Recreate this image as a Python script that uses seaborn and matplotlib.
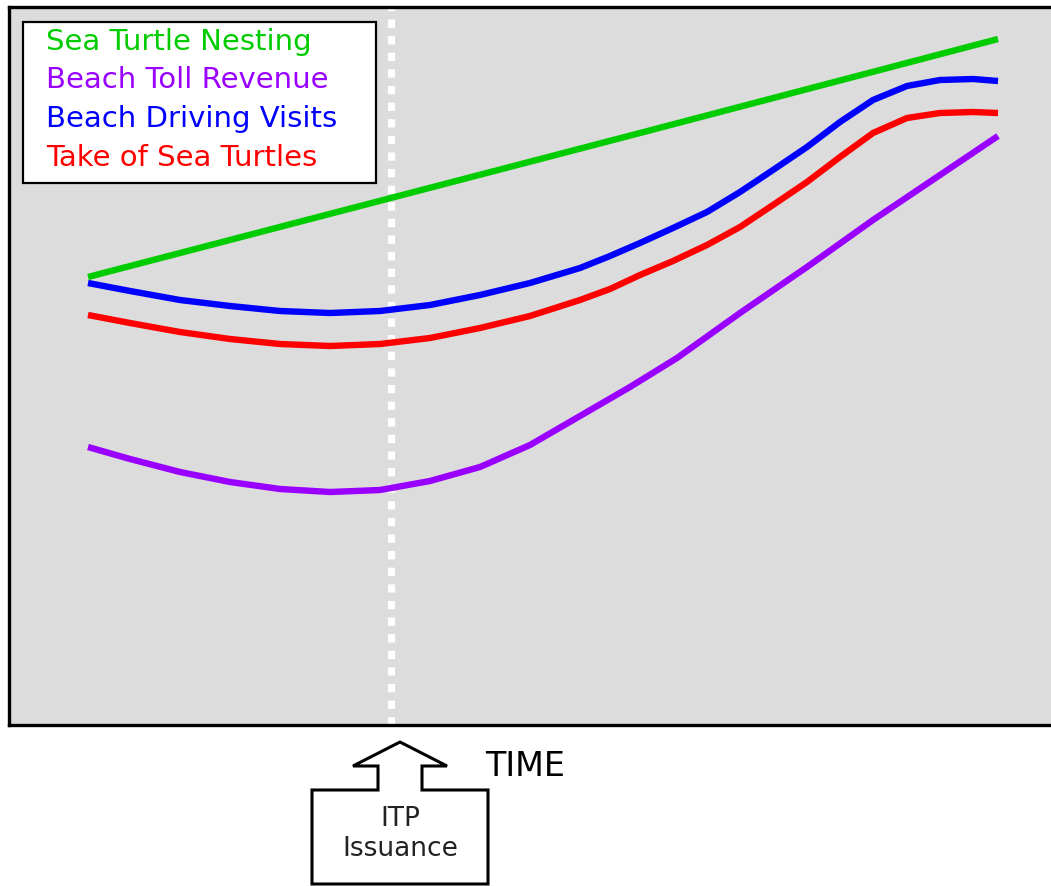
import numpy as np
import pandas as pd
import matplotlib
matplotlib.use("Agg")
import matplotlib.pyplot as plt
from matplotlib.patches import Polygon, Rectangle
import seaborn as sns

# values (time axis and level, arbitrary units)
nesting_t = [88, 640, 998]
nesting_v = [448, 592, 686]

toll_t = [88, 130, 180, 230, 280, 330, 380, 430, 480, 530, 580, 630, 677, 740, 807, 873, 940, 998]
toll_v = [278, 266, 253, 243, 236, 233, 235, 244, 258, 280, 309, 338, 367, 412, 458, 505, 550, 589]

visits_t = [88, 130, 180, 230, 280, 330, 380, 430, 480, 530, 580, 610, 640, 673, 707, 740, 773,
            807, 840, 873, 907, 940, 973, 998]
visits_v = [442, 434, 425, 419, 414, 412, 414, 420, 430, 442, 457, 469, 482, 497, 513, 533, 555,
            578, 603, 625, 639, 645, 646, 644]

take_t = [88, 130, 180, 230, 280, 330, 380, 430, 480, 530, 580, 610, 640, 673, 707, 740, 773,
          807, 840, 873, 907, 940, 973, 998]
take_v = [410, 402, 393, 386, 381, 379, 381, 387, 397, 409, 425, 436, 450, 464, 480, 498, 520,
          543, 568, 592, 607, 612, 613, 612]

itp_time = 391

labels = ["Sea Turtle Nesting", "Beach Toll Revenue", "Beach Driving Visits", "Take of Sea Turtles"]
colors = ["#00cc00", "#9900ff", "#0000ff", "#ff0000"]

frames = []
for lab, t, v in zip(labels, [nesting_t, toll_t, visits_t, take_t],
                     [nesting_v, toll_v, visits_v, take_v]):
    frames.append(pd.DataFrame({"time": t, "level": v, "series": lab}))
df = pd.concat(frames, ignore_index=True)

sns.set_style("white")
plt.rcParams["font.family"] = ["DejaVu Sans"]

W, H = 1051, 886
fig = plt.figure(figsize=(W / 100, H / 100), dpi=100)
ax = fig.add_axes([8.5 / W, 1 - 725 / H, 1 - 8.5 / W, (725 - 6.5) / H])
ax.set_facecolor("#dcdcdc")

sns.lineplot(data=df, x="time", y="level", hue="series", hue_order=labels,
             palette=colors, linewidth=4.6, sort=False, ax=ax, legend=True,
             solid_capstyle="butt", solid_joinstyle="round")

ax.axvline(itp_time, color="white", linewidth=5.2, dashes=(1.15, 1.15), zorder=1)

ax.set_xlim(8.5, 1051)
ax.set_ylim(0, 718.5)
ax.set_xticks([])
ax.set_yticks([])
ax.set_xlabel("")
ax.set_ylabel("")
for s in ["left", "top", "bottom"]:
    ax.spines[s].set_color("black")
    ax.spines[s].set_linewidth(2.4)
ax.spines["right"].set_visible(False)

# legend box
box = Rectangle((23 / W, 1 - 183 / H), (376 - 23) / W, (183 - 22) / H, transform=fig.transFigure,
                facecolor="white", edgecolor="black", linewidth=1.6, zorder=4)
ax.add_patch(box)

leg = ax.legend(loc="upper left", bbox_to_anchor=(46 / W, 1 - 28 / H), bbox_transform=fig.transFigure,
                borderaxespad=0, borderpad=0, handlelength=0, handletextpad=0,
                labelcolor="linecolor", fontsize=21, frameon=False, labelspacing=0.36)
leg.set_zorder(5)
for h in leg.legend_handles:
    h.set_visible(False)

# ITP issuance arrow below the time axis (pixel outline)
pts = [(400, 742), (447, 766), (422, 766), (422, 790), (488, 790), (488, 884),
       (312, 884), (312, 790), (378, 790), (378, 766), (353, 766)]
pts = [(x / W, 1 - y / H) for x, y in pts]
fig.patches.append(Polygon(pts, closed=True, facecolor="white", edgecolor="black",
                           linewidth=2.2, transform=fig.transFigure))

fig.text(400 / W, 1 - 834 / H, "ITP\nIssuance", ha="center", va="center",
         fontsize=19, color="#222222", linespacing=1.15)
fig.text(485 / W, 1 - 766 / H, "TIME", ha="left", va="center", fontsize=24, color="black")

fig.savefig("out.png", dpi=100)
